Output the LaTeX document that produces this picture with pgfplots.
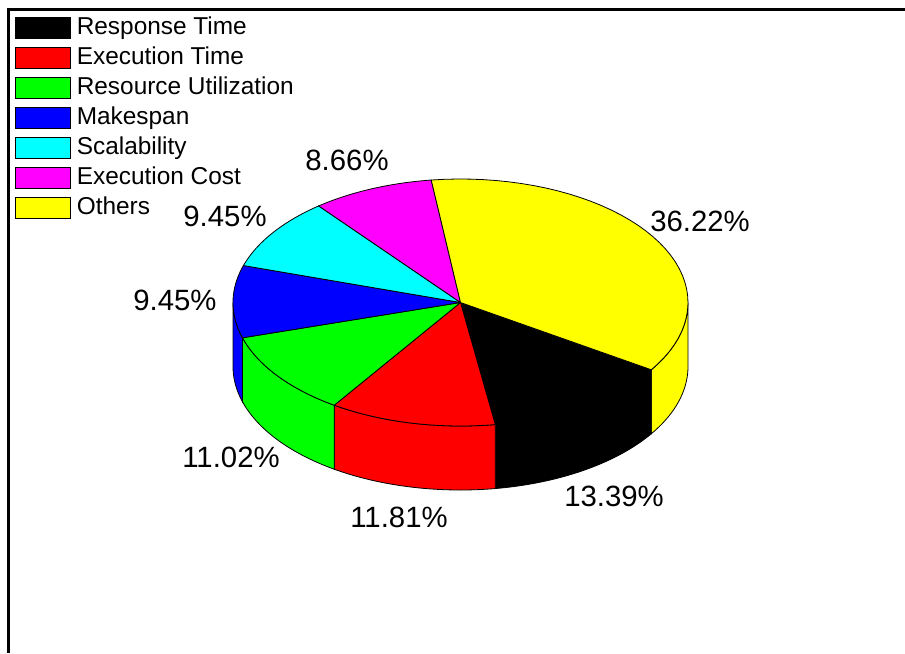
\documentclass[border=0pt]{standalone}
\usepackage{pgfplots}
\pgfplotsset{compat=1.18}
\usepackage{pgfplotstable}
\usepackage{fontspec}
\setmainfont{Liberation Sans}

% percentage labels and where they sit (pixel units, y downwards)
\pgfplotstableread{
label x y
36.22 700 221
13.39 614 496
11.81 399 517
11.02 231 457
9.45 175 300
9.45 225 216
8.66 347 160
}\labeltable

% slice values (percent)
\def\vA{13.39}% Response Time
\def\vB{11.81}% Execution Time
\def\vC{11.02}% Resource Utilization
\def\vD{9.45}%  Makespan
\def\vE{9.45}%  Scalability
\def\vF{8.66}%  Execution Cost
\def\vG{36.22}% Others

% pie geometry (pixel units)
\def\cx{460.5}\def\cy{302.5}\def\rx{227.5}\def\ry{123.5}\def\dd{64}
\pgfmathsetmacro\aA{-33}
\pgfmathsetmacro\aB{\aA-3.6*\vA}
\pgfmathsetmacro\aC{\aB-3.6*\vB}
\pgfmathsetmacro\aD{\aC-3.6*\vC}
\pgfmathsetmacro\aE{\aD-3.6*\vD}
\pgfmathsetmacro\aF{\aE-3.6*\vE}
\pgfmathsetmacro\aG{\aF-3.6*\vF}
\pgfmathsetmacro\aH{\aG-3.6*\vG}

\definecolor{cgreen}{RGB}{0,255,0}
\definecolor{cblue}{RGB}{0,0,255}
\definecolor{ccyan}{RGB}{0,255,255}
\definecolor{cmag}{RGB}{255,0,255}
\definecolor{cyel}{RGB}{255,255,0}
\definecolor{cred}{RGB}{255,0,0}

% top face of a slice: #1 colour, #2 high angle, #3 low angle
\newcommand\topslice[3]{%
\addplot[fill=#1, draw=black, line width=0.6pt, samples at={0,1,...,41}, variable=\k]
 ({\k<41 ? \cx+\rx*cos((#3)+((#2)-(#3))*\k/40) : \cx},
  {\k<41 ? \cy-\ry*sin((#3)+((#2)-(#3))*\k/40) : \cy}) -- cycle;
}
% side wall: #1 colour, #2 high angle, #3 low angle
\newcommand\wall[3]{%
\addplot[fill=#1, draw=black, line width=0.6pt, forget plot, samples at={0,1,...,81}, variable=\k]
 ({\cx+\rx*cos(\k<41 ? (#3)+((#2)-(#3))*\k/40 : (#2)-((#2)-(#3))*(\k-41)/40)},
  {\cy-\ry*sin(\k<41 ? (#3)+((#2)-(#3))*\k/40 : (#2)-((#2)-(#3))*(\k-41)/40) + (\k>40 ? \dd : 0)}) -- cycle;
}

\begin{document}
\begin{tikzpicture}
\begin{axis}[
  scale only axis, width=678.75pt, height=489.75pt,
  xmin=0, xmax=905, ymin=0, ymax=653, y dir=reverse,
  hide axis,
  legend cell align=left,
  legend image code/.code={\draw[#1, draw=black, line width=0.6pt] (0pt,-7.875pt) rectangle (41.25pt,7.875pt);},
  legend style={draw=none, fill=none, at={(axis cs:15,17)}, anchor=north west,
    inner sep=0pt, outer sep=0pt, row sep=6.2pt, column sep=4.5pt,
    font=\fontsize{18.3}{21}\selectfont,
    nodes={inner sep=0pt, text height=12.6pt, text depth=3pt}},
]
% frame
\addplot[black, line width=2.25pt, forget plot] coordinates {(8,653) (8,9) (905,9)};
% side walls (front half)
\wall{cyel}{0}{\aA}
\wall{black}{\aA}{\aB}
\wall{cred}{\aB}{\aC}
\wall{cgreen}{\aC}{\aD}
\wall{cblue}{\aD}{-180}
% top faces
\topslice{black}{\aA}{\aB}\addlegendentry{Response Time}
\topslice{cred}{\aB}{\aC}\addlegendentry{Execution Time}
\topslice{cgreen}{\aC}{\aD}\addlegendentry{Resource Utilization}
\topslice{cblue}{\aD}{\aE}\addlegendentry{Makespan}
\topslice{ccyan}{\aE}{\aF}\addlegendentry{Scalability}
\topslice{cmag}{\aF}{\aG}\addlegendentry{Execution Cost}
\topslice{cyel}{\aG}{\aH}\addlegendentry{Others}
% labels
\addplot[only marks, mark=none, forget plot, point meta=explicit symbolic,
  nodes near coords={\pgfplotspointmeta\%},
  every node near coord/.append style={anchor=center, font=\fontsize{22}{26}\selectfont, black}]
  table[x=x, y=y, meta=label] {\labeltable};
\end{axis}
\path (current axis.south west) rectangle (current axis.north east);
\end{tikzpicture}
\end{document}
